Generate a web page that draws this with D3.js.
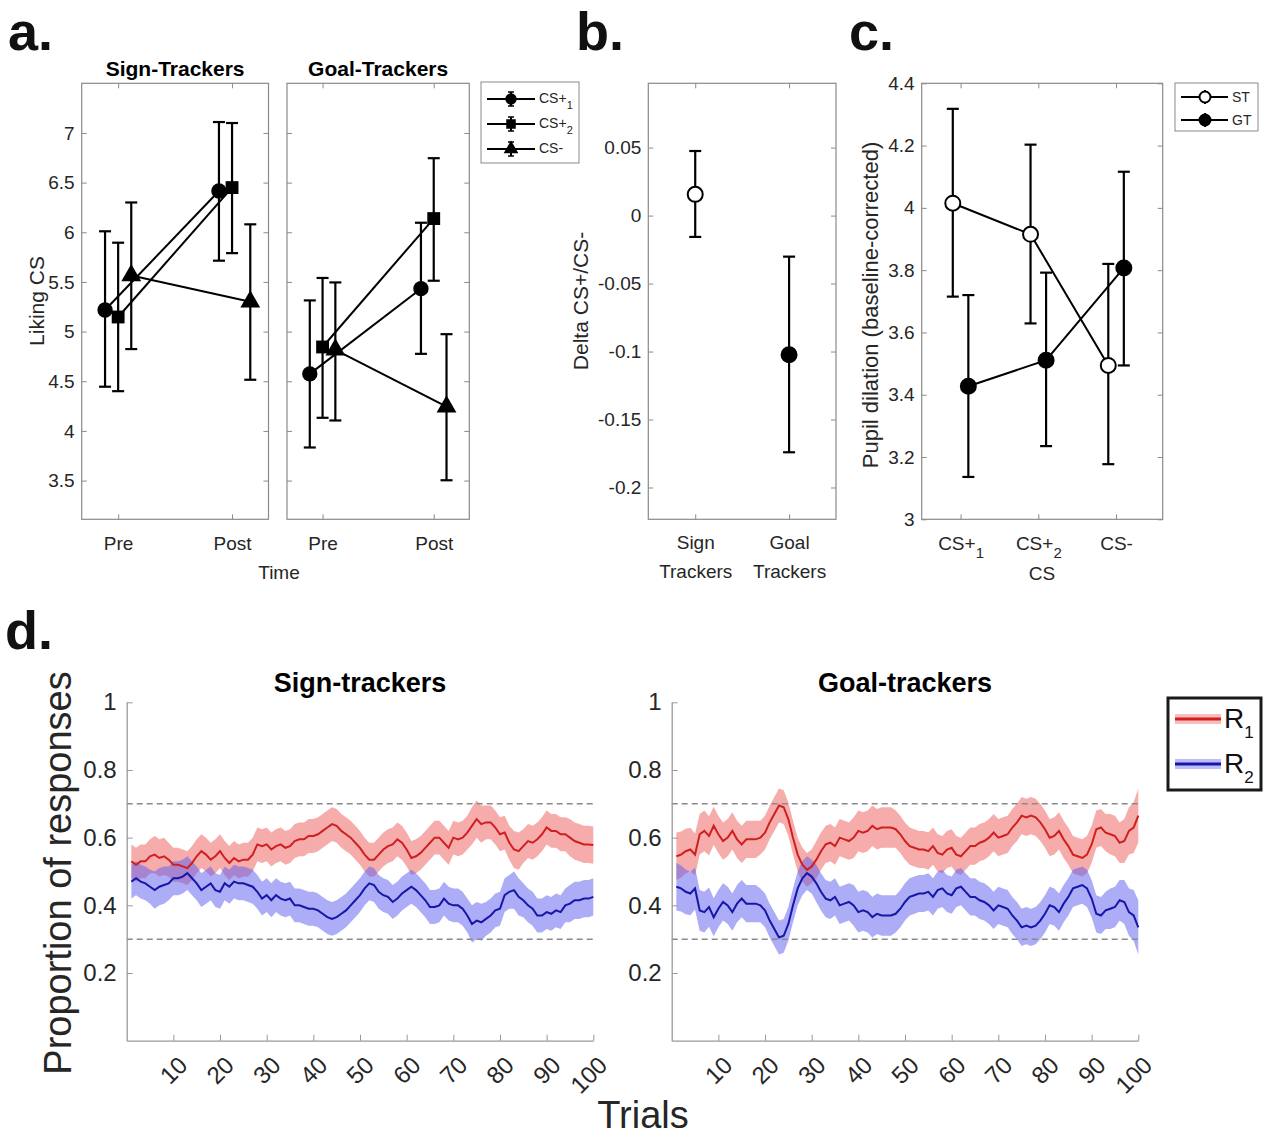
<!DOCTYPE html>
<html>
<head>
<meta charset="utf-8">
<script src="https://cdn.jsdelivr.net/npm/d3@7"></script>
<style>
  body { margin: 0; background: #fff; }
  svg { font-family: "Liberation Sans", Arial, Helvetica, sans-serif; }
</style>
</head>
<body>
<div id="fig"></div>
<script>
// ---- panel a: liking of CS, pre / post ----
var timeLabels = ["Pre", "Post"];
var csNames = ["CS+1", "CS+2", "CS-"];
var likeST = [[5.217, 6.416], [5.147, 6.45], [5.565, 5.30]];
var likeSTlo = [[4.445, 5.714], [4.40, 5.79], [4.824, 4.515]];
var likeSThi = [[6.01, 7.11], [5.895, 7.10], [6.30, 6.08]];
var likeGT = [[4.574, 5.432], [4.845, 6.138], [4.817, 4.244]];
var likeGTlo = [[3.833, 4.776], [4.132, 5.512], [4.105, 3.503]];
var likeGThi = [[5.314, 6.096], [5.54, 6.746], [5.495, 4.974]];
var likeTicks = [3.5, 4, 4.5, 5, 5.5, 6, 6.5, 7];
var jitterST = [[-0.115, -0.115], [0, 0], [0.115, 0.16]];
var jitterGT = [[-0.115, -0.115], [0, 0], [0.115, 0.115]];

// ---- panel b: delta CS+/CS- ----
var groupLabels = [["Sign", "Trackers"], ["Goal", "Trackers"]];
var deltaMean = [0.0156, -0.1024];
var deltaLo = [-0.0157, -0.1741];
var deltaHi = [0.0475, -0.0302];
var deltaTicks = [-0.2, -0.15, -0.1, -0.05, 0, 0.05];

// ---- panel c: pupil dilation ----
var pupilCats = ["CS+1", "CS+2", "CS-"];
var pupilST = [4.015, 3.915, 3.494];
var pupilSTlo = [3.715, 3.629, 3.177];
var pupilSThi = [4.318, 4.203, 3.82];
var pupilGT = [3.427, 3.511, 3.807];
var pupilGTlo = [3.136, 3.235, 3.494];
var pupilGThi = [3.72, 3.792, 4.116];
var pupilTicks = [3, 3.2, 3.4, 3.6, 3.8, 4, 4.2, 4.4];

// ---- panel d: proportion of responses over trials ----
var trialTicks = [10, 20, 30, 40, 50, 60, 70, 80, 90, 100];
var propTicks = [0.2, 0.4, 0.6, 0.8, 1];
var r1ST = [0.53,0.52,0.53,0.53,0.545,0.55,0.54,0.545,0.535,0.52,
  0.52,0.515,0.51,0.525,0.545,0.56,0.55,0.535,0.545,0.56,
  0.54,0.525,0.54,0.53,0.535,0.535,0.55,0.58,0.575,0.58,
  0.565,0.575,0.58,0.57,0.575,0.59,0.595,0.595,0.605,0.605,
  0.61,0.62,0.63,0.64,0.635,0.62,0.61,0.60,0.585,0.57,
  0.55,0.535,0.535,0.55,0.565,0.575,0.58,0.595,0.585,0.565,
  0.54,0.545,0.555,0.57,0.585,0.60,0.60,0.585,0.57,0.60,
  0.595,0.60,0.615,0.635,0.655,0.64,0.645,0.645,0.63,0.61,
  0.615,0.585,0.565,0.56,0.575,0.59,0.585,0.595,0.61,0.63,
  0.62,0.62,0.61,0.61,0.60,0.59,0.585,0.58,0.58,0.578];
var r2ST = [0.47,0.48,0.47,0.465,0.455,0.445,0.455,0.46,0.465,0.48,
  0.48,0.485,0.495,0.48,0.465,0.445,0.455,0.465,0.445,0.44,
  0.465,0.455,0.47,0.465,0.465,0.46,0.455,0.44,0.42,0.43,
  0.415,0.43,0.42,0.415,0.42,0.40,0.40,0.395,0.39,0.39,
  0.385,0.375,0.365,0.36,0.365,0.375,0.385,0.40,0.415,0.43,
  0.45,0.465,0.46,0.44,0.43,0.425,0.41,0.42,0.435,0.445,
  0.455,0.445,0.43,0.415,0.395,0.395,0.40,0.42,0.405,0.40,
  0.40,0.39,0.37,0.345,0.355,0.35,0.36,0.37,0.385,0.39,
  0.43,0.44,0.445,0.425,0.415,0.40,0.39,0.37,0.37,0.38,
  0.375,0.385,0.38,0.40,0.405,0.415,0.415,0.42,0.42,0.425];
var semST = [0.05,0.05,0.05,0.05,0.05,0.055,0.055,0.055,0.05,0.05,
  0.05,0.05,0.05,0.05,0.05,0.05,0.05,0.05,0.05,0.05,
  0.05,0.05,0.05,0.05,0.05,0.05,0.05,0.05,0.05,0.05,
  0.05,0.05,0.05,0.05,0.05,0.05,0.05,0.05,0.05,0.05,
  0.05,0.05,0.05,0.05,0.05,0.05,0.05,0.05,0.05,0.05,
  0.05,0.05,0.05,0.05,0.05,0.05,0.05,0.05,0.05,0.05,
  0.05,0.05,0.05,0.05,0.05,0.05,0.05,0.05,0.05,0.05,
  0.05,0.05,0.05,0.055,0.055,0.055,0.05,0.05,0.05,0.05,
  0.05,0.05,0.055,0.055,0.05,0.05,0.05,0.05,0.05,0.05,
  0.05,0.05,0.05,0.05,0.055,0.055,0.055,0.055,0.055,0.055];
var r1GT = [0.545,0.55,0.56,0.565,0.55,0.61,0.62,0.605,0.635,0.61,
  0.59,0.60,0.62,0.595,0.58,0.595,0.595,0.595,0.60,0.615,
  0.645,0.67,0.695,0.69,0.655,0.60,0.55,0.52,0.505,0.515,
  0.535,0.56,0.58,0.585,0.575,0.60,0.595,0.59,0.60,0.62,
  0.615,0.62,0.635,0.625,0.63,0.63,0.63,0.625,0.61,0.59,
  0.575,0.57,0.565,0.565,0.56,0.575,0.555,0.55,0.565,0.57,
  0.55,0.545,0.56,0.575,0.575,0.585,0.59,0.60,0.615,0.60,
  0.605,0.61,0.63,0.645,0.665,0.66,0.665,0.66,0.645,0.625,
  0.60,0.605,0.62,0.595,0.575,0.55,0.545,0.54,0.55,0.58,
  0.625,0.63,0.615,0.61,0.605,0.585,0.59,0.62,0.63,0.665];
var r2GT = [0.455,0.45,0.44,0.435,0.45,0.385,0.38,0.395,0.365,0.39,
  0.41,0.40,0.38,0.405,0.42,0.405,0.405,0.405,0.40,0.385,
  0.355,0.33,0.305,0.31,0.345,0.40,0.45,0.48,0.495,0.485,
  0.465,0.44,0.42,0.415,0.425,0.40,0.405,0.41,0.40,0.38,
  0.385,0.38,0.365,0.375,0.37,0.37,0.37,0.375,0.39,0.41,
  0.425,0.43,0.435,0.435,0.44,0.425,0.445,0.45,0.435,0.43,
  0.45,0.455,0.44,0.425,0.425,0.415,0.41,0.40,0.385,0.40,
  0.395,0.39,0.37,0.355,0.335,0.34,0.335,0.34,0.355,0.375,
  0.40,0.395,0.38,0.405,0.425,0.45,0.455,0.46,0.45,0.42,
  0.375,0.37,0.385,0.39,0.395,0.415,0.41,0.38,0.37,0.335];
var semGT = [0.07,0.068,0.066,0.064,0.062,0.06,0.06,0.058,0.056,0.055,
  0.055,0.055,0.055,0.055,0.055,0.055,0.055,0.055,0.05,0.05,
  0.05,0.05,0.05,0.05,0.05,0.05,0.05,0.05,0.05,0.05,
  0.055,0.055,0.055,0.055,0.055,0.055,0.055,0.055,0.06,0.06,
  0.06,0.06,0.06,0.06,0.06,0.06,0.06,0.055,0.055,0.055,
  0.055,0.055,0.055,0.055,0.055,0.055,0.055,0.055,0.055,0.055,
  0.055,0.055,0.055,0.055,0.055,0.055,0.055,0.055,0.055,0.055,
  0.055,0.055,0.055,0.055,0.055,0.055,0.055,0.055,0.055,0.055,
  0.055,0.055,0.055,0.055,0.055,0.055,0.055,0.055,0.055,0.055,
  0.055,0.055,0.055,0.06,0.06,0.06,0.065,0.07,0.075,0.08];

var W = 1274, H = 1138;
var axisGray = "#8a8a8a", txt = "#262626";
var svg = d3.select("#fig").append("svg").attr("width", W).attr("height", H);

var topY = 83.3, botY = 519.3;

// boxed matlab-like axes: inward ticks on all 4 sides
function boxAxes(g, x, y, xVals, yVals, yFmt) {
  var x0 = x.range()[0], x1 = x.range()[1];
  var y0 = y.range()[0], y1 = y.range()[1];
  g.append("rect").attr("x", x0).attr("y", y1).attr("width", x1 - x0).attr("height", y0 - y1)
    .attr("fill", "none").attr("stroke", axisGray).attr("stroke-width", 1.2);
  var ax = [
    g.append("g").attr("transform", "translate(0," + y0 + ")")
      .call(d3.axisBottom(x).tickValues(xVals).tickSize(-5).tickSizeOuter(0).tickPadding(17)),
    g.append("g").attr("transform", "translate(0," + y1 + ")")
      .call(d3.axisTop(x).tickValues(xVals).tickSize(-5).tickSizeOuter(0).tickFormat("")),
    g.append("g").attr("transform", "translate(" + x0 + ",0)")
      .call(d3.axisLeft(y).tickValues(yVals).tickSize(-5).tickSizeOuter(0).tickPadding(7).tickFormat(yFmt)),
    g.append("g").attr("transform", "translate(" + x1 + ",0)")
      .call(d3.axisRight(y).tickValues(yVals).tickSize(-5).tickSizeOuter(0).tickFormat(""))
  ];
  ax.forEach(function (a) {
    a.select(".domain").remove();
    a.selectAll("line").attr("stroke", axisGray);
    a.selectAll("text").attr("fill", txt).style("font-size", "19px");
  });
  return ax;
}

function errBar(g, x, ylo, yhi) {
  g.append("line").attr("x1", x).attr("x2", x).attr("y1", ylo).attr("y2", yhi)
    .attr("stroke", "#000").attr("stroke-width", 2.2);
  [ylo, yhi].forEach(function (yy) {
    g.append("line").attr("x1", x - 6).attr("x2", x + 6).attr("y1", yy).attr("y2", yy)
      .attr("stroke", "#000").attr("stroke-width", 2.2);
  });
}

var markTypes = [d3.symbolCircle, d3.symbolSquare, d3.symbolTriangle];
var markSizes = [185, 165, 170];

function subLabel(sel, s, base, sub) {
  // "CS+1" -> CS+ with subscript 1
  sel.text(null);
  var m = s.match(/^(CS\+)(\d)$/);
  if (m) {
    sel.append("tspan").text(m[1]);
    sel.append("tspan").attr("dy", base * 0.45).style("font-size", sub + "px").text(m[2]);
  } else {
    sel.text(s);
  }
}

// ---- panel a ----
function likingPanel(x0, x1, title, mean, lo, hi, jit, showY) {
  var x = d3.scaleLinear().domain([0.68, 2.32]).range([x0, x1]);
  var y = d3.scaleLinear().domain([3.11, 7.5]).range([botY, topY]);
  var g = svg.append("g");
  var ax = boxAxes(g, x, y, [1, 2], likeTicks, function (d) { return d; });
  ax[0].selectAll("text").text(function (d) { return timeLabels[d - 1]; });
  if (!showY) ax[2].selectAll("text").remove();
  g.append("text").attr("x", (x0 + x1) / 2).attr("y", 76).attr("text-anchor", "middle")
    .style("font-size", "21px").style("font-weight", "bold").text(title);
  mean.forEach(function (m, s) {
    var pts = m.map(function (v, i) { return [x(i + 1 + jit[s][i]), y(v)]; });
    g.append("path").attr("d", d3.line()(pts)).attr("fill", "none").attr("stroke", "#000").attr("stroke-width", 2);
    m.forEach(function (v, i) { errBar(g, pts[i][0], y(lo[s][i]), y(hi[s][i])); });
    pts.forEach(function (p) {
      g.append("path").attr("d", d3.symbol().type(markTypes[s]).size(markSizes[s])())
        .attr("transform", "translate(" + p[0] + "," + p[1] + ")").attr("fill", "#000");
    });
  });
}
likingPanel(81.7, 268.5, "Sign-Trackers", likeST, likeSTlo, likeSThi, jitterST, true);
likingPanel(287, 469.3, "Goal-Trackers", likeGT, likeGTlo, likeGThi, jitterGT, false);

svg.append("text").attr("transform", "translate(44,301) rotate(-90)").attr("text-anchor", "middle")
  .attr("fill", txt).style("font-size", "21px").text("Liking CS");
svg.append("text").attr("x", 279).attr("y", 579).attr("text-anchor", "middle")
  .attr("fill", txt).style("font-size", "19px").text("Time");

// legend a
var legA = svg.append("g");
legA.append("rect").attr("x", 481).attr("y", 82).attr("width", 98).attr("height", 81)
  .attr("fill", "#fff").attr("stroke", axisGray);
csNames.forEach(function (n, i) {
  var yy = 99 + i * 25;
  legA.append("line").attr("x1", 487).attr("x2", 535).attr("y1", yy).attr("y2", yy)
    .attr("stroke", "#000").attr("stroke-width", 2);
  legA.append("line").attr("x1", 511).attr("x2", 511).attr("y1", yy - 7).attr("y2", yy + 7)
    .attr("stroke", "#000").attr("stroke-width", 2);
  [yy - 7, yy + 7].forEach(function (c) {
    legA.append("line").attr("x1", 508).attr("x2", 514).attr("y1", c).attr("y2", c)
      .attr("stroke", "#000").attr("stroke-width", 1.5);
  });
  legA.append("path").attr("d", d3.symbol().type(markTypes[i]).size(markSizes[i] * 0.55)())
    .attr("transform", "translate(511," + yy + ")").attr("fill", "#000");
  var t = legA.append("text").attr("x", 539).attr("y", yy + 4).attr("fill", txt).style("font-size", "14px");
  subLabel(t, n, 14, 11);
});

// ---- panel b ----
(function () {
  var x = d3.scaleLinear().domain([0.5, 2.5]).range([648.3, 836]);
  var y = d3.scaleLinear().domain([-0.2234, 0.0973]).range([botY, topY]);
  var g = svg.append("g");
  var ax = boxAxes(g, x, y, [1, 2], deltaTicks, function (d) { return d; });
  ax[0].selectAll("text").attr("y", 0).attr("dy", 0).each(function (d) {
    var t = d3.select(this).text(null);
    groupLabels[d - 1].forEach(function (w, k) {
      t.append("tspan").attr("x", 0).attr("y", k === 0 ? 30 : 59).text(w);
    });
  });
  deltaMean.forEach(function (v, i) {
    errBar(g, x(i + 1), y(deltaLo[i]), y(deltaHi[i]));
    g.append("circle").attr("cx", x(i + 1)).attr("cy", y(v)).attr("r", 7.5)
      .attr("fill", i === 0 ? "#fff" : "#000").attr("stroke", "#000").attr("stroke-width", 2);
  });
  svg.append("text").attr("transform", "translate(588,301) rotate(-90)").attr("text-anchor", "middle")
    .attr("fill", txt).style("font-size", "21px").text("Delta CS+/CS-");
})();

// ---- panel c ----
(function () {
  var x = d3.scaleLinear().domain([0.5, 3.6]).range([921.7, 1162.7]);
  var y = d3.scaleLinear().domain([3, 4.4]).range([botY, topY]);
  var g = svg.append("g");
  var ax = boxAxes(g, x, y, [1, 2, 3], pupilTicks, function (d) { return d; });
  ax[0].selectAll("text").each(function (d) { subLabel(d3.select(this), pupilCats[d - 1], 19, 15); });
  var groups = [
    { m: pupilST, lo: pupilSTlo, hi: pupilSThi, off: -0.1, fill: "#fff" },
    { m: pupilGT, lo: pupilGTlo, hi: pupilGThi, off: 0.1, fill: "#000" }
  ];
  groups.forEach(function (s) {
    var pts = s.m.map(function (v, i) { return [x(i + 1 + s.off), y(v)]; });
    g.append("path").attr("d", d3.line()(pts)).attr("fill", "none").attr("stroke", "#000").attr("stroke-width", 2);
    s.m.forEach(function (v, i) { errBar(g, pts[i][0], y(s.lo[i]), y(s.hi[i])); });
    pts.forEach(function (p) {
      g.append("circle").attr("cx", p[0]).attr("cy", p[1]).attr("r", 7.5)
        .attr("fill", s.fill).attr("stroke", "#000").attr("stroke-width", 2);
    });
  });
  svg.append("text").attr("transform", "translate(878,305) rotate(-90)").attr("text-anchor", "middle")
    .attr("fill", txt).style("font-size", "22px").text("Pupil dilation (baseline-corrected)");
  svg.append("text").attr("x", 1042).attr("y", 580).attr("text-anchor", "middle")
    .attr("fill", txt).style("font-size", "19px").text("CS");
  // legend c
  var lg = svg.append("g");
  lg.append("rect").attr("x", 1175).attr("y", 83).attr("width", 83).attr("height", 48)
    .attr("fill", "#fff").attr("stroke", axisGray);
  ["ST", "GT"].forEach(function (n, i) {
    var yy = 97 + i * 23;
    lg.append("line").attr("x1", 1181).attr("x2", 1228).attr("y1", yy).attr("y2", yy)
      .attr("stroke", "#000").attr("stroke-width", 2);
    lg.append("line").attr("x1", 1205).attr("x2", 1205).attr("y1", yy - 7).attr("y2", yy + 7)
      .attr("stroke", "#000").attr("stroke-width", 2);
    lg.append("circle").attr("cx", 1205).attr("cy", yy).attr("r", 5.5)
      .attr("fill", groups[i].fill).attr("stroke", "#000").attr("stroke-width", 2);
    lg.append("text").attr("x", 1232).attr("y", yy + 5).attr("fill", txt).style("font-size", "14px").text(n);
  });
})();

// ---- panel d ----
var redLine = "#cf1f1f", redBand = "rgb(240,90,90)", blueLine = "#1616a8", blueBand = "rgb(90,90,240)";
function trialPanel(x0, x1, title, r1, r2, sem) {
  var x = d3.scaleLinear().domain([0, 100]).range([x0, x1]);
  var y = d3.scaleLinear().domain([0, 1]).range([1040.7, 702.3]);
  var g = svg.append("g");
  var trials = d3.range(1, r1.length + 1);
  [[r1, redBand], [r2, blueBand]].forEach(function (s) {
    var area = d3.area().x(function (t) { return x(t); })
      .y0(function (t) { return y(s[0][t - 1] - sem[t - 1]); })
      .y1(function (t) { return y(s[0][t - 1] + sem[t - 1]); });
    g.append("path").attr("d", area(trials)).attr("fill", s[1]).attr("fill-opacity", 0.5);
  });
  [0.7, 0.3].forEach(function (v) {
    g.append("line").attr("x1", x(0)).attr("x2", x(100)).attr("y1", y(v)).attr("y2", y(v))
      .attr("stroke", "#8a8a8a").attr("stroke-width", 1.6).attr("stroke-dasharray", "6,4");
  });
  [[r1, redLine], [r2, blueLine]].forEach(function (s) {
    var line = d3.line().x(function (t) { return x(t); }).y(function (t) { return y(s[0][t - 1]); });
    g.append("path").attr("d", line(trials)).attr("fill", "none").attr("stroke", s[1]).attr("stroke-width", 2);
  });
  var xa = g.append("g").attr("transform", "translate(0,1040.7)")
    .call(d3.axisBottom(x).tickValues(trialTicks).tickSize(-6).tickSizeOuter(0));
  xa.selectAll("text").attr("y", 0).attr("dy", 0).attr("text-anchor", "end")
    .attr("transform", "translate(15,26) rotate(-45)");
  var ya = g.append("g").attr("transform", "translate(" + x0 + ",0)")
    .call(d3.axisLeft(y).tickValues(propTicks).tickSize(-6).tickSizeOuter(0).tickPadding(10)
      .tickFormat(function (d) { return d; }));
  [xa, ya].forEach(function (a) {
    a.select(".domain").attr("stroke", "#9a9a9a").attr("stroke-width", 1.3);
    a.selectAll("line").attr("stroke", "#9a9a9a");
    a.selectAll("text").attr("fill", txt).style("font-size", "24px");
  });
  g.append("text").attr("x", (x0 + x1) / 2).attr("y", 692).attr("text-anchor", "middle")
    .style("font-size", "27px").style("font-weight", "bold").text(title);
}
trialPanel(126.7, 593.3, "Sign-trackers", r1ST, r2ST, semST);
trialPanel(671.7, 1138.3, "Goal-trackers", r1GT, r2GT, semGT);

svg.append("text").attr("transform", "translate(71,873) rotate(-90)").attr("text-anchor", "middle")
  .attr("fill", txt).style("font-size", "38px").text("Proportion of responses");
svg.append("text").attr("x", 643).attr("y", 1128).attr("text-anchor", "middle")
  .attr("fill", txt).style("font-size", "38px").text("Trials");

// legend d
var legD = svg.append("g");
legD.append("rect").attr("x", 1168).attr("y", 698).attr("width", 93).attr("height", 92)
  .attr("fill", "#fff").attr("stroke", "#1a1a1a").attr("stroke-width", 3);
[["R", "1", redLine, redBand], ["R", "2", blueLine, blueBand]].forEach(function (e, i) {
  var yy = 719 + i * 45;
  legD.append("rect").attr("x", 1175).attr("y", yy - 5).attr("width", 46).attr("height", 10)
    .attr("fill", e[3]).attr("fill-opacity", 0.4);
  legD.append("line").attr("x1", 1175).attr("x2", 1221).attr("y1", yy).attr("y2", yy)
    .attr("stroke", e[2]).attr("stroke-width", 3);
  var t = legD.append("text").attr("x", 1224).attr("y", yy + 9).attr("fill", "#111").style("font-size", "28px");
  t.append("tspan").text(e[0]);
  t.append("tspan").attr("dy", 10).style("font-size", "17px").text(e[1]);
});

// panel letters
[["a.", 8, 50], ["b.", 576, 50], ["c.", 849, 50], ["d.", 5, 649]].forEach(function (p) {
  svg.append("text").attr("x", p[1]).attr("y", p[2]).style("font-size", "54px")
    .style("font-weight", "bold").attr("fill", "#111").text(p[0]);
});
</script>
</body>
</html>
